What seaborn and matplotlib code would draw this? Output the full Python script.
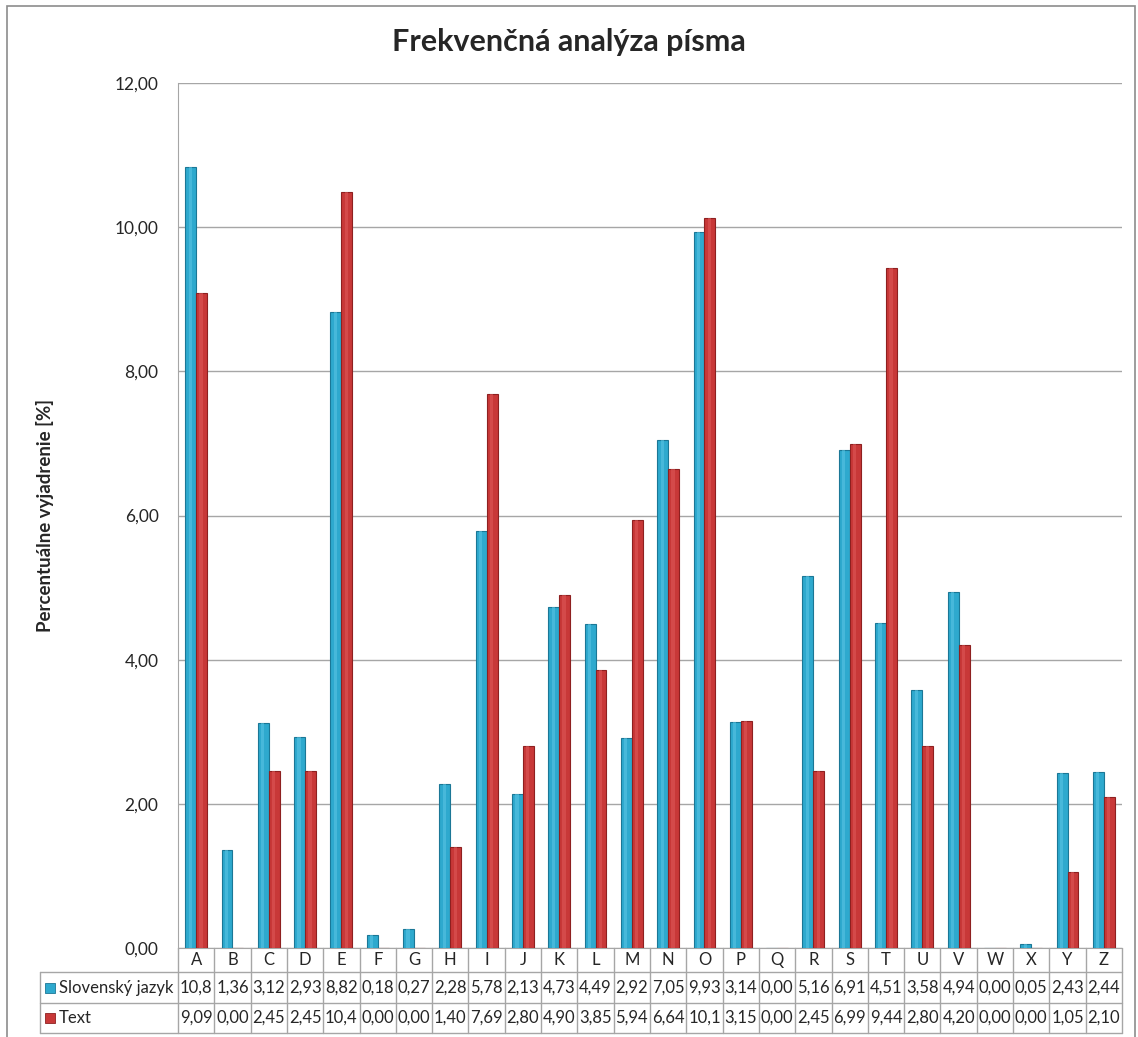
# -*- coding: utf-8 -*-
"""
Frekvenčná analýza písma - grouped bars with a data table below
"""

import matplotlib
import matplotlib.pyplot as plt
import matplotlib.transforms as mtransforms
import pandas as pd
import seaborn as sns

matplotlib.use('Agg')

# Data
letters = list('ABCDEFGHIJKLMNOPQRSTUVWXYZ')
series_names = ['Slovenský jazyk', 'Text']
slovensky = [10.84, 1.36, 3.12, 2.93, 8.82, 0.18, 0.27, 2.28, 5.78, 2.13, 4.73, 4.49, 2.92,
             7.05, 9.93, 3.14, 0.00, 5.16, 6.91, 4.51, 3.58, 4.94, 0.00, 0.05, 2.43, 2.44]
text_vals = [9.09, 0.00, 2.45, 2.45, 10.49, 0.00, 0.00, 1.40, 7.69, 2.80, 4.90, 3.85, 5.94,
             6.64, 10.13, 3.15, 0.00, 2.45, 6.99, 9.44, 2.80, 4.20, 0.00, 0.00, 1.05, 2.10]
y_ticks = [0, 2, 4, 6, 8, 10, 12]

colors = ['#2EA9CE', '#C83838']
light_colors = ['#5CC6E4', '#DE5A5A']
edge_colors = ['#1B7796', '#8E2020']


def fmt(v):
    # Excel shrinks the cell text to 4 characters
    return '{:.2f}'.format(v).replace('.', ',')[:4]


def main():
    sns.set_style('white')
    plt.rcParams['font.family'] = ['Lato', 'DejaVu Sans']

    df = pd.DataFrame({
        'Písmeno': letters * 2,
        'Hodnota': slovensky + text_vals,
        'Séria': [series_names[0]] * len(letters) + [series_names[1]] * len(letters),
    })

    W, H = 1138, 1037
    fig = plt.figure(figsize=(W / 100, H / 100), dpi=100)

    # outer chart frame
    fig.patches.append(plt.Rectangle((7 / W, -0.01), 1128 / W, 1 - 6 / H + 0.01,
                                     transform=fig.transFigure, fill=False,
                                     edgecolor='#8c8c8c', linewidth=1.2))

    left, right, top, bottom = 178, 1122, 83, 948
    ax = fig.add_axes([left / W, 1 - bottom / H, (right - left) / W, (bottom - top) / H])

    sns.barplot(data=df, x='Písmeno', y='Hodnota', hue='Séria', palette=colors,
                saturation=1, width=0.6, gap=0, ax=ax, legend=False, zorder=3)

    # fake the Excel cylinder-ish shading: light strip in the middle of each bar
    for i, cont in enumerate(ax.containers):
        for bar in cont:
            bar.set_edgecolor(edge_colors[i])
            bar.set_linewidth(0.8)
            h = bar.get_height()
            if h <= 0:
                continue
            bx, bw = bar.get_x(), bar.get_width()
            ax.add_patch(plt.Rectangle((bx + bw * 0.3, 0), bw * 0.3, h,
                                       facecolor=light_colors[i], alpha=0.55,
                                       linewidth=0, zorder=4))

    ax.set_xlim(-0.5, len(letters) - 0.5)
    ax.set_ylim(0, 12)
    ax.set_yticks(y_ticks)
    ax.set_yticklabels(['{:.2f}'.format(t).replace('.', ',') for t in y_ticks], fontsize=12.5)
    ax.tick_params(axis='y', length=0, pad=14)
    ax.set_xticks([])
    ax.set_xlabel('')
    ax.set_ylabel('')
    ax.yaxis.grid(True, color='#a6a6a6', linewidth=1, zorder=0)
    for s in ['top', 'right']:
        ax.spines[s].set_visible(False)
    ax.spines['left'].set_color('#a6a6a6')
    ax.spines['bottom'].set_color('#a6a6a6')

    fig.text(45 / W, 1 - 515 / H, 'Percentuálne vyjadrenie [%]', rotation=90,
             ha='center', va='center', fontsize=13.5, fontweight='bold')
    fig.text(0.5, 1 - 42 / H, 'Frekvenčná analýza písma', ha='center', va='center',
             fontsize=22, fontweight='bold')

    # data table below the axis
    ah = bottom - top
    r1 = -24 / ah
    r2 = -55 / ah
    r3 = -85 / ah
    xl = (40 - left) / (right - left)
    trans = mtransforms.blended_transform_factory(ax.transData, ax.transAxes)
    line_kw = dict(color='#a6a6a6', linewidth=1, clip_on=False)
    n = len(letters)
    fs = 12

    for k in range(n + 1):
        ax.plot([k - 0.5, k - 0.5], [0, r3], transform=trans, **line_kw)
    for yy in [r1, r2, r3]:
        ax.plot([xl, 1], [yy, yy], transform=ax.transAxes, **line_kw)
    ax.plot([xl, xl], [r1, r3], transform=ax.transAxes, **line_kw)

    for k, lab in enumerate(letters):
        ax.text(k, r1 / 2, lab, transform=trans, ha='center', va='center', fontsize=fs)
        ax.text(k, (r1 + r2) / 2, fmt(slovensky[k]), transform=trans, ha='center',
                va='center', fontsize=fs)
        ax.text(k, (r2 + r3) / 2, fmt(text_vals[k]), transform=trans, ha='center',
                va='center', fontsize=fs)

    for j, (name, yy) in enumerate(zip(series_names, [(r1 + r2) / 2, (r2 + r3) / 2])):
        kx = (45 - left) / (right - left)
        ax.add_patch(plt.Rectangle((kx, yy - 5 / ah), 10 / (right - left), 10 / ah,
                                   transform=ax.transAxes, facecolor=colors[j],
                                   edgecolor=edge_colors[j], linewidth=0.6, clip_on=False))
        ax.text((59 - left) / (right - left), yy, name, transform=ax.transAxes,
                ha='left', va='center', fontsize=fs)

    plt.savefig('out.png', dpi=100)


if __name__ == "__main__":
    main()
